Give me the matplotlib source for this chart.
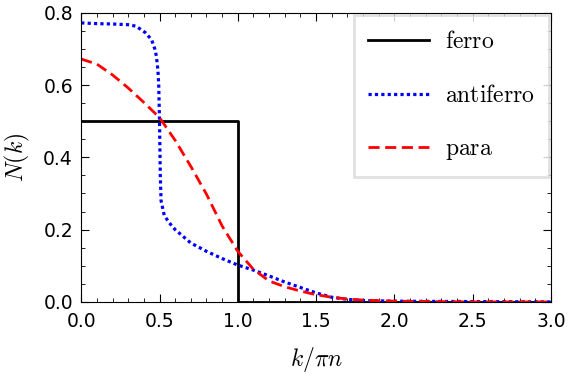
import matplotlib
matplotlib.use('Agg')
import matplotlib.pyplot as plt
from matplotlib.ticker import MultipleLocator

plt.rcParams['mathtext.fontset'] = 'cm'

# ferro: step function
ferro_k = [0.0, 1.0, 1.0, 3.0]
ferro_n = [0.5, 0.5, 0.0, 0.0]

# antiferro
afm_k = [0.0, 0.1, 0.2, 0.3, 0.35, 0.41, 0.45, 0.47, 0.48, 0.49, 0.495, 0.5, 0.505,
         0.51, 0.53, 0.56, 0.6, 0.7, 0.8, 0.9, 1.0, 1.1, 1.2, 1.3, 1.4, 1.5, 1.6,
         1.7, 1.8, 2.0, 2.5, 3.0]
afm_n = [0.772, 0.770, 0.769, 0.767, 0.763, 0.745, 0.725, 0.70, 0.68, 0.64, 0.60, 0.50, 0.35,
         0.28, 0.24, 0.22, 0.20, 0.163, 0.14, 0.12, 0.102, 0.088, 0.072, 0.055, 0.04, 0.025, 0.013,
         0.007, 0.004, 0.002, 0.001, 0.0]

# para
para_k = [0.0, 0.1, 0.2, 0.3, 0.4, 0.5, 0.6, 0.7, 0.8, 0.9, 1.0, 1.1, 1.2, 1.3,
          1.4, 1.5, 1.6, 1.7, 1.8, 2.0, 2.5, 3.0]
para_n = [0.672, 0.658, 0.628, 0.592, 0.552, 0.51, 0.447, 0.375, 0.298, 0.21, 0.14, 0.09, 0.058, 0.042,
          0.03, 0.02, 0.013, 0.008, 0.005, 0.002, 0.0, 0.0]

fig, ax = plt.subplots(figsize=(5.68, 3.76), dpi=100)
fig.subplots_adjust(left=0.143, right=0.97, top=0.966, bottom=0.197)

ax.plot(ferro_k, ferro_n, color='black', lw=2, label=r'$\mathrm{ferro}$')
ax.plot(afm_k, afm_n, color='blue', lw=2.3, ls=(0, (1, 1)), label=r'$\mathrm{antiferro}$')
ax.plot(para_k, para_n, color='red', lw=2, ls=(0, (4, 2)), label=r'$\mathrm{para}$')

ax.set_xlim(0, 3)
ax.set_ylim(0, 0.8)
ax.xaxis.set_major_locator(MultipleLocator(0.5))
ax.xaxis.set_minor_locator(MultipleLocator(0.1))
ax.yaxis.set_major_locator(MultipleLocator(0.2))
ax.yaxis.set_minor_locator(MultipleLocator(0.05))
ax.tick_params(which='both', direction='in', top=True, right=True, labelsize=13.5)
ax.tick_params(which='major', length=6)
ax.tick_params(which='minor', length=3)
ax.tick_params(axis='x', pad=7)
ax.tick_params(axis='y', pad=6)

ax.set_xlabel(r'$k/\pi n$', fontsize=17, labelpad=10)
ax.set_ylabel(r'$N(k)$', fontsize=17, labelpad=8)

leg = ax.legend(loc='upper right', fontsize=17, handlelength=2.6, labelspacing=1.25,
                borderaxespad=0.1, fancybox=False, borderpad=0.6, handletextpad=0.65)
leg.get_frame().set_edgecolor('#d9d9d9')
leg.get_frame().set_linewidth(2)

fig.savefig('out.png')
